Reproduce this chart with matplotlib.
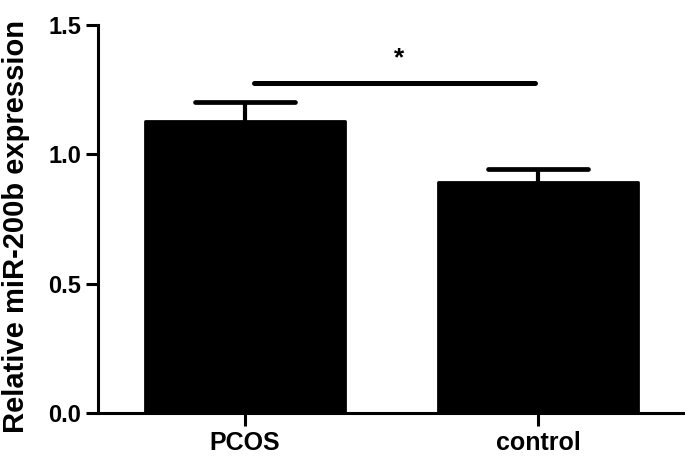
import matplotlib
matplotlib.use("Agg")
import matplotlib.pyplot as plt

plt.rcParams['font.family'] = ['Liberation Sans', 'DejaVu Sans']
plt.rcParams['font.weight'] = 'bold'

groups = ["PCOS", "control"]
means = [1.129, 0.893]
errs = [0.073, 0.050]
sig_y = 1.276
sig_label = "*"
yticks = [0.0, 0.5, 1.0, 1.5]
ytick_labels = ["0.0", "0.5", "1.0", "1.5"]

fig = plt.figure(figsize=(6.85, 4.57), dpi=100)
ax = fig.add_axes([98 / 685, 1 - 413 / 457, 587 / 685, 388 / 457])

x = list(range(len(groups)))
ax.bar(x, means, width=0.68, color="black", edgecolor="black", linewidth=2,
       joinstyle="round", zorder=2)

# upper error bars only, with rounded caps (GraphPad style)
cap_half = 0.17
for xi, m, e in zip(x, means, errs):
    ax.plot([xi, xi], [m, m + e], color="black", lw=3, solid_capstyle="butt", zorder=3)
    ax.plot([xi - cap_half, xi + cap_half], [m + e, m + e], color="black", lw=3.4,
            solid_capstyle="round", zorder=3)

# significance bar
ax.plot([0.03, 0.99], [sig_y, sig_y], color="black", lw=3.6,
        solid_capstyle="round", zorder=3)
ax.text(0.527, sig_y + 0.095, sig_label, ha="center", va="center",
        fontsize=19, fontweight="bold")

ax.set_xlim(-0.5, 1.5)
ax.set_ylim(0, 1.5)
ax.set_xticks(x)
ax.set_xticklabels(groups, fontsize=18, fontweight="bold")
ax.set_yticks(yticks)
ax.set_yticklabels(ytick_labels, fontsize=17, fontweight="bold")
ax.tick_params(axis="both", length=9, width=2.2, direction="out")
ax.tick_params(axis="y", pad=3)
ax.tick_params(axis="x", pad=4)

for s in ["top", "right"]:
    ax.spines[s].set_visible(False)
for s in ["left", "bottom"]:
    ax.spines[s].set_linewidth(2.2)

ax.set_ylabel("Relative miR-200b expression", fontsize=21, fontweight="bold")
ax.yaxis.set_label_coords(-0.115, 0.48)

fig.savefig("out.png", dpi=100)
